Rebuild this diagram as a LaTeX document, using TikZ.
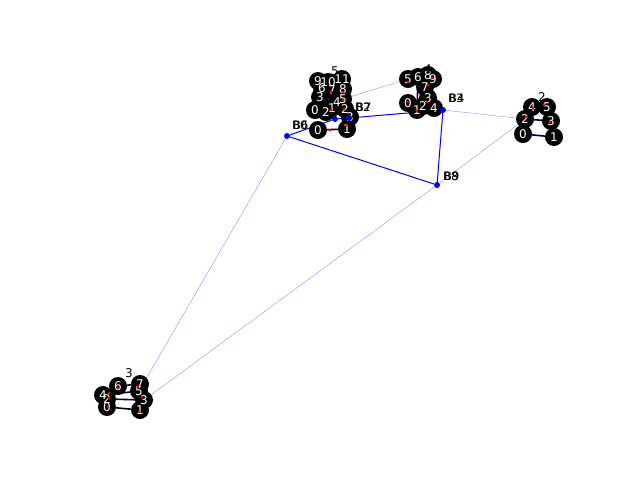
\documentclass[tikz,border=0pt]{standalone}
\usepackage{fontspec}
\setmainfont{DejaVu Sans}
\pgfdeclarelayer{bg}
\pgfsetlayers{bg,main}
\begin{document}
\begin{tikzpicture}[x=1pt,y=-1pt,
  nd/.style={circle,fill=black,minimum size=18pt,inner sep=0pt},
  wt/.style={text=white,inner sep=0pt,font=\fontsize{12}{12}\selectfont},
  cl/.style={text=black,inner sep=0pt,font=\fontsize{12}{12}\selectfont},
  bl/.style={text=black,inner sep=0pt,font=\fontsize{11.5}{11.5}\selectfont,anchor=west},
  rd/.style={circle,fill=red,minimum size=3.2pt,inner sep=0pt},
  bd/.style={circle,fill=blue,minimum size=6pt,inner sep=0pt},
  ie/.style={black!80!blue,line width=1.6pt},
  be/.style={blue,line width=1pt},
  te/.style={blue!45,line width=0.4pt}]
\useasboundingbox (0,0) rectangle (640,480);
\def\allnodes{c1n0/318/130/0,c1n1/347/129/1,c1n2/345/109/2,c1n3/350/117/3,
c5n9/318/81/9,c5n10/328/82/10,c5n11/342/79/11,c5n6/322/88/6,c5n7/332/90/7,c5n8/343/89/8,
c5n3/320/97/3,c5n4/337/102/4,c5n5/343/99/5,c5n0/315/110/0,c5n2/326/112/2,c5n1/332/108/1,
c4n5/408/79/5,c4n6/418/77/6,c4n8/428/75/8,c4n9/433/79/9,c4n7/425/87/7,c4n3/428/98/3,
c4n0/408/103/0,c4n1/417/110/1,c4n2/423/106/2,c4n4/434/108/4,
c2n4/532/107/4,c2n5/547/107/5,c2n2/525/119/2,c2n3/551/121/3,c2n0/523/134/0,c2n1/554/137/1,
c3n6/118/386/6,c3n7/140/384/7,c3n4/103/395/4,c3n5/139/391/5,c3n3/144/400/3,c3n2/107/399/2,
c3n0/107/407/0,c3n1/140/410/1}
% black node discs
\foreach \n/\x/\y/\t in \allnodes {\node[nd] (\n) at (\x,\y) {};}
% white node labels
\foreach \n/\x/\y/\t in \allnodes {\node[wt] (t\n) at (\n) {\t};}
% cluster labels
\node[cl] (lab5) at (335,71) {5};
\node[cl] (lab4) at (428,69) {4};
\node[cl] (lab2) at (542,97) {2};
\node[cl] (lab3) at (129,373) {3};
% red dots
\foreach \x/\y [count=\i] in {331/92,343/92,343/100,331/110,344/109,330/130,347/125,
408/82,428/85,432/78,427/102,408/102,417/111,
533/108,544/105,550/122,526/117,
118/388,138/387,109/393,109/398,142/397,139/412,108/407}
  {\node[rd] (r\i) at (\x,\y) {};}
% blue dots
\node[bd] (B0) at (287,136) {};
\node[bd] (B1) at (335,119) {};
\node[bd] (B2) at (349,118) {};
\node[bd] (B3) at (443,110) {};
\node[bd] (B8) at (437,185) {};
% blue labels (overlapping, as in the reference)
\node[bl] (lB0) at (292,125) {B0};
\node[bl] (lB6) at (293,125) {B6};
\node[bl] (lB2) at (355,107) {B2};
\node[bl] (lB7) at (356,107) {B7};
\node[bl] (lB3) at (448,98) {B3};
\node[bl] (lB4) at (449,98) {B4};
\node[bl] (lB8) at (443,176) {B8};
\node[bl] (lB9) at (444,176) {B9};
\begin{pgfonlayer}{bg}
  % intra-cluster edges
  \draw[ie] (c1n0) -- (c1n1);
  \draw[ie] (c2n2) -- (c2n3);
  \draw[ie] (c2n0) -- (c2n1);
  \draw[ie] (c2n4) -- (c2n5);
  \draw[ie] (c3n6) -- (c3n7);
  \draw[ie] (c3n4) -- (c3n5);
  \draw[ie] (c3n2) -- (c3n3);
  \draw[ie] (c3n0) -- (c3n1);
  \draw[ie] (c4n6) -- (c4n1);
  % thick blue edges
  \draw[be] (B0) -- (B1);
  \draw[be] (B1) -- (B2);
  \draw[be] (B2) -- (B3);
  \draw[be] (B3) -- (B8);
  \draw[be] (B0) -- (B8);
  % thin light edges
  \draw[te] (B0) -- (c3n5);
  \draw[te] (B8) -- (c3n3);
  \draw[te] (B8) -- (c2n2);
  \draw[te] (B3) -- (c2n2);
  \draw[te] (c5n5) -- (c4n5);
\end{pgfonlayer}
\end{tikzpicture}
\end{document}
